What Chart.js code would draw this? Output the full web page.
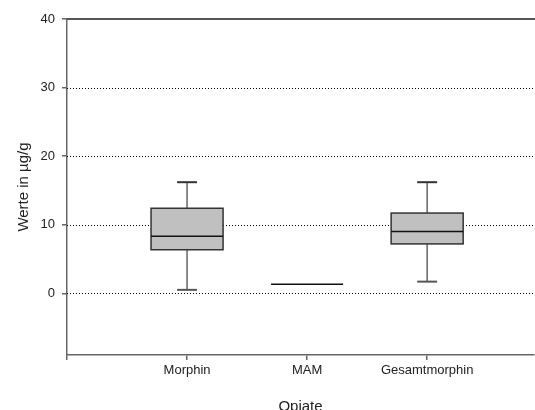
<!DOCTYPE html>
<html>
<head>
<meta charset="utf-8">
<script src="https://cdn.jsdelivr.net/npm/chart.js@4.4.1/dist/chart.umd.min.js"></script>
<style>
  html, body { margin: 0; padding: 0; background: #fff; }
  #wrap { width: 535px; height: 410px; }
</style>
</head>
<body>
<div id="wrap"><canvas id="c" width="535" height="410"></canvas></div>
<script>
// Opiate concentrations (µg/g): box-plot summary per substance
const categories  = ['Morphin', 'MAM', 'Gesamtmorphin'];
const whiskerLow  = [0.5, 1.3, 1.7];
const quartile1   = [6.35, 1.3, 7.2];
const medians     = [8.3, 1.3, 9.0];
const quartile3   = [12.4, 1.3, 11.7];
const whiskerHigh = [16.2, 1.3, 16.2];
const yTicks = [0, 10, 20, 30, 40];
const yMin = -9, yMax = 40;

const FONT = "'Liberation Sans', Arial, sans-serif";
const BOX_HALF = 0.3;   // half box width in category units
const CAP_HALF = 0.083; // half whisker-cap width in category units

const boxPlot = {
  id: 'boxPlot',
  beforeDatasetsDraw(chart) {
    const { ctx, chartArea: a, scales: { y } } = chart;
    ctx.save();
    // dotted reference lines
    ctx.strokeStyle = '#000';
    ctx.lineWidth = 1;
    ctx.setLineDash([1, 2]);
    yTicks.forEach(v => {
      if (v === yMax) return;
      const py = Math.round(y.getPixelForValue(v)) + 0.5;
      ctx.beginPath();
      ctx.moveTo(a.left, py);
      ctx.lineTo(a.right + 1, py);
      ctx.stroke();
    });
    ctx.setLineDash([]);
    // top frame line
    const top = Math.round(y.getPixelForValue(yMax));
    ctx.strokeStyle = '#555';
    ctx.lineWidth = 2;
    ctx.beginPath();
    ctx.moveTo(a.left, top);
    ctx.lineTo(a.right + 1, top);
    ctx.stroke();
    ctx.restore();
  },
  afterDatasetsDraw(chart) {
    const { ctx, scales: { x, y } } = chart;
    ctx.save();
    categories.forEach((name, i) => {
      const cx = x.getPixelForValue(i + 1);
      const bl = x.getPixelForValue(i + 1 - BOX_HALF);
      const br = x.getPixelForValue(i + 1 + BOX_HALF);
      const capL = x.getPixelForValue(i + 1 - CAP_HALF);
      const capR = x.getPixelForValue(i + 1 + CAP_HALF);
      const yLo = y.getPixelForValue(whiskerLow[i]);
      const yQ1 = y.getPixelForValue(quartile1[i]);
      const yMed = y.getPixelForValue(medians[i]);
      const yQ3 = y.getPixelForValue(quartile3[i]);
      const yHi = y.getPixelForValue(whiskerHigh[i]);

      // whiskers
      if (whiskerHigh[i] > quartile3[i] || whiskerLow[i] < quartile1[i]) {
        ctx.strokeStyle = '#666';
        ctx.lineWidth = 1.5;
        ctx.beginPath();
        ctx.moveTo(cx, yHi); ctx.lineTo(cx, yQ3);
        ctx.moveTo(cx, yQ1); ctx.lineTo(cx, yLo);
        ctx.stroke();
        ctx.lineWidth = 2;
        ctx.strokeStyle = '#333';
        ctx.beginPath();
        ctx.moveTo(capL, yHi); ctx.lineTo(capR, yHi);
        ctx.stroke();
        ctx.strokeStyle = '#555';
        ctx.beginPath();
        ctx.moveTo(capL, yLo); ctx.lineTo(capR, yLo);
        ctx.stroke();
      }
      // box
      if (quartile3[i] > quartile1[i]) {
        ctx.fillStyle = '#c0c0c0';
        ctx.fillRect(bl, yQ3, br - bl, yQ1 - yQ3);
        ctx.strokeStyle = '#333';
        ctx.lineWidth = 1.5;
        ctx.strokeRect(bl, yQ3, br - bl, yQ1 - yQ3);
      }
      // median
      ctx.strokeStyle = '#111';
      ctx.lineWidth = 1.5;
      ctx.beginPath();
      ctx.moveTo(bl, yMed); ctx.lineTo(br, yMed);
      ctx.stroke();
    });
    ctx.restore();
  }
};

new Chart(document.getElementById('c'), {
  type: 'scatter',
  data: {
    datasets: [{
      label: 'Median',
      data: medians.map((m, i) => ({ x: i + 1, y: m })),
      pointRadius: 0,
      showLine: false
    }]
  },
  options: {
    responsive: false,
    animation: false,
    layout: { padding: { top: 19, right: 1, left: 0, bottom: 0 } },
    plugins: { legend: { display: false }, tooltip: { enabled: false } },
    scales: {
      x: {
        type: 'linear',
        min: 0,
        max: 3.89,
        afterBuildTicks(s) { s.ticks = [0, 1, 2, 3].map(v => ({ value: v })); },
        afterFit(s) { s.height = 55; },
        ticks: {
          autoSkip: false,
          maxRotation: 0,
          padding: 3,
          color: '#222',
          font: { family: FONT, size: 13 },
          callback: v => (v >= 1 && v <= categories.length) ? categories[v - 1] : ''
        },
        grid: { drawOnChartArea: false, tickLength: 5, tickColor: '#666', lineWidth: 1.5 },
        border: { color: '#666', width: 1.5 },
        title: {
          display: true,
          text: 'Opiate',
          color: '#222',
          font: { family: FONT, size: 15 },
          padding: { top: 0, bottom: -6 }
        }
      },
      y: {
        min: yMin,
        max: yMax,
        afterBuildTicks(s) { s.ticks = yTicks.map(v => ({ value: v })); },
        afterFit(s) { s.width = 67; },
        ticks: {
          padding: 7,
          color: '#222',
          font: { family: FONT, size: 13 }
        },
        grid: { drawOnChartArea: false, tickLength: 5, tickColor: '#666', lineWidth: 1.5 },
        border: { color: '#666', width: 1.5 },
        title: {
          display: true,
          text: 'Werte in µg/g',
          color: '#222',
          font: { family: FONT, size: 15 },
          padding: { top: 15, bottom: 0 }
        }
      }
    }
  },
  plugins: [boxPlot]
});
</script>
</body>
</html>
